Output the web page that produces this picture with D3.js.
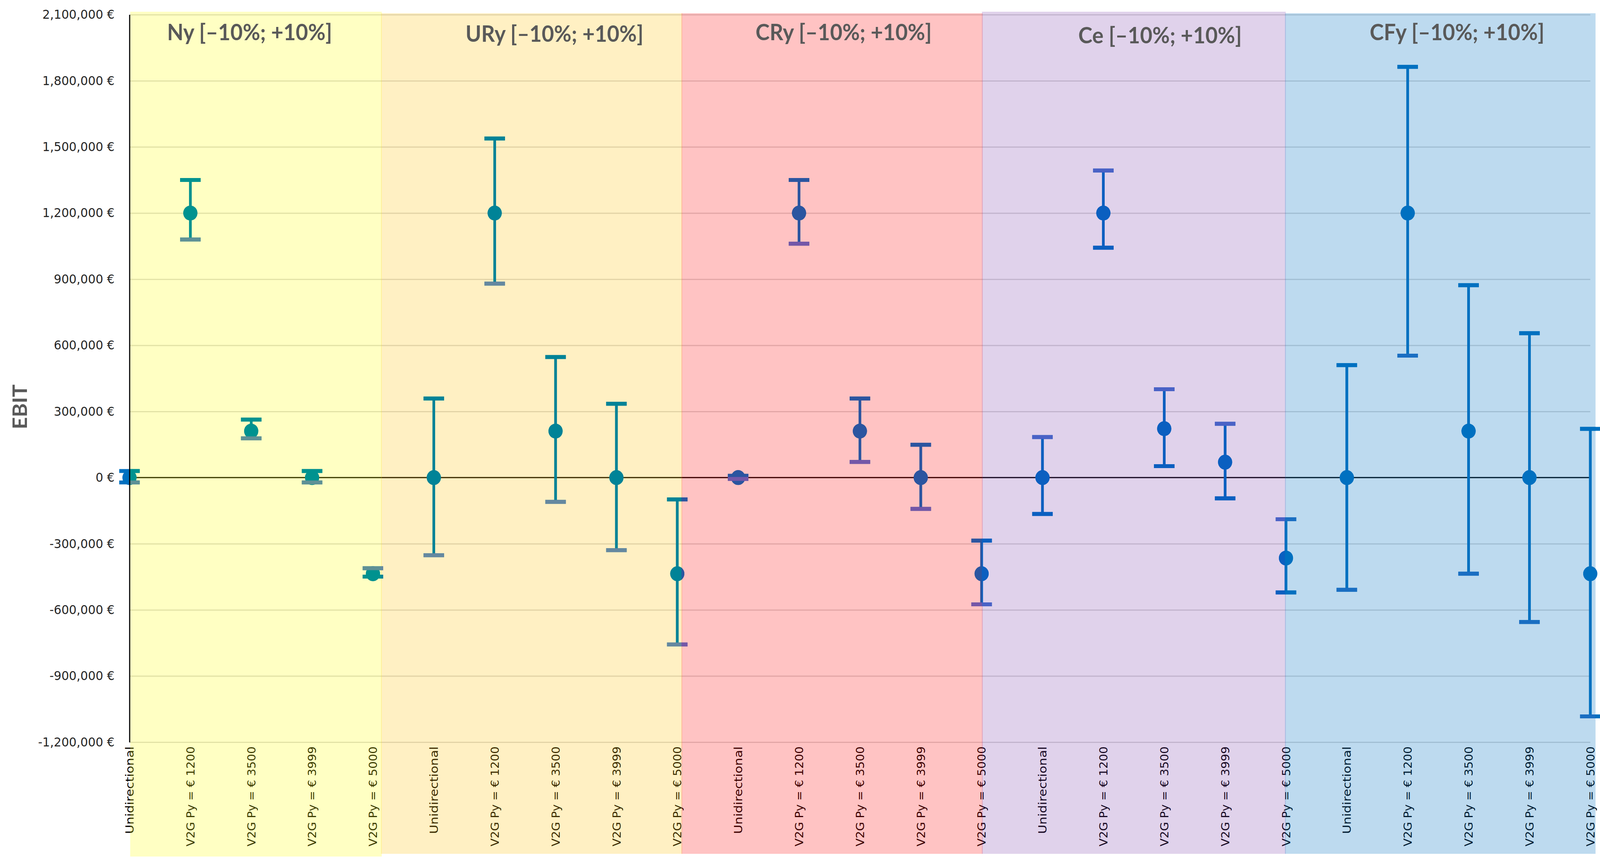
<!DOCTYPE html>
<html>
<head>
<meta charset="utf-8">
<script src="https://cdn.jsdelivr.net/npm/d3@7"></script>
<style>
  html, body { margin: 0; padding: 0; background: #fff; overflow: hidden; }
  svg { display: block; width: 100vw; height: 100vh; }
</style>
</head>
<body>
<svg id="chart" viewBox="0 0 4288 2208" preserveAspectRatio="none"></svg>
<script>
"use strict";

// groups (parameter varied) and scenarios along the x axis
var groups = ["Ny", "URy", "CRy", "Ce", "CFy"];
var scenarios = ["Unidirectional", "V2G Py = € 1200", "V2G Py = € 3500", "V2G Py = € 3999", "V2G Py = € 5000"];

// EBIT of the base case, one row per group
var ebit = [
    [0, 1200000, 211000, 0, -436000],
    [0, 1200000, 211000, 0, -436000],
    [0, 1200000, 211000, 0, -436000],
    [0, 1200000, 222000, 70000, -365000],
    [0, 1200000, 211000, 0, -436000]
];
// error bar ends, first colour
var endA = [
    [30000, 1350000, 263000, 30000, -449000],
    [359000, 1538000, 547000, 335000, -99000],
    [8000, 1350000, 359000, 149000, -286000],
    [-165000, 1043000, 52000, -94000, -521000],
    [510000, 1863000, 873000, 655000, 221000]
];
// error bar ends, second colour
var endB = [
    [-22000, 1080000, 178000, -22000, -411000],
    [-352000, 880000, -110000, -329000, -757000],
    [-6000, 1061000, 71000, -142000, -575000],
    [184000, 1393000, 401000, 244000, -189000],
    [-509000, 553000, -436000, -655000, -1083000]
];
var yTicks = d3.range(-1200000, 2100001, 300000);

// --- styles / layout
var colA = "#0070c0";
var bandFill = ["rgba(255,255,0,0.235)", "rgba(255,192,0,0.235)", "rgba(255,0,0,0.235)",
                "rgba(112,48,160,0.215)", "rgba(0,112,192,0.26)"];
// how the marks look through each band
var tintA = ["#00928f", "#008397", "#2b55a0", "#0b5fc0", "#0070c0"];
var tintB = ["#5f9196", "#6588a0", "#7457a8", "#4a62c6", "#1a6ec2"];
// band edges in category units (hand placed shapes in the original)
var bandEdges = [0.012, 4.145, 9.081, 14.017, 18.997, 24.086];
var bandTop = [30, 34, 34, 30, 34];
var bandBottom = [2194, 2187, 2187, 2187, 2187];
var titleX = [669, 1486, 2261, 3109, 3905];
var titleY = [103, 107, 103, 111, 103];

var plotLeft = 347, plotRight = 4262, plotTop = 37.5, plotBottom = 1901;

var svg = d3.select("#chart");
svg.append("rect").attr("width", 4288).attr("height", 2208).attr("fill", "#fff");

var points = [];
groups.forEach(function(g, gi) {
    scenarios.forEach(function(s, si) {
        points.push({i: gi * scenarios.length + si, group: g, label: s,
                     v: ebit[gi][si], a: endA[gi][si], b: endB[gi][si]});
    });
});

var x = d3.scalePoint().domain(d3.range(points.length)).range([plotLeft, plotRight]);
var xc = d3.scaleLinear().domain([0, points.length - 1]).range([plotLeft, plotRight]);
var y = d3.scaleLinear().domain([-1200000, 2100000]).range([plotBottom, plotTop]);

function bandX(i) { return xc(bandEdges[i]) - (i > 0 ? 2 : 0); }
function bandW(i) { return xc(bandEdges[i + 1]) - xc(bandEdges[i]) + (i > 0 ? 2 : 0); }

// gridlines
var grid = svg.append("g")
    .attr("transform", "translate(" + plotLeft + ",0)")
    .call(d3.axisLeft(y).tickValues(yTicks).tickSize(-(plotRight - plotLeft)).tickFormat(""));
grid.select(".domain").remove();
grid.selectAll("line").attr("stroke", "#d9d9d9").attr("stroke-width", 3);

// zero line
svg.append("line")
    .attr("x1", plotLeft).attr("x2", plotRight)
    .attr("y1", y(0)).attr("y2", y(0))
    .attr("stroke", "#000").attr("stroke-width", 3);

// category labels
var xAxis = svg.append("g")
    .attr("transform", "translate(0," + plotBottom + ")")
    .call(d3.axisBottom(x).tickSize(0).tickFormat(function(i) { return points[i].label; }));
xAxis.select(".domain").remove();
xAxis.selectAll("text")
    .attr("transform", "rotate(-90)")
    .attr("x", -11).attr("y", 0).attr("dy", "0.35em")
    .attr("text-anchor", "end")
    .attr("textLength", function(i) { return points[i].label.length > 14 ? 256 : 224; })
    .attr("lengthAdjust", "spacingAndGlyphs")
    .style("font-family", "'DejaVu Sans'")
    .style("font-size", "30px")
    .attr("fill", "#000");

// error bars and markers
function drawPoints(parent, cA, cB) {
    var pts = parent.selectAll("g").data(points).enter().append("g")
        .attr("transform", function(d) { return "translate(" + x(d.i) + ",0)"; });
    pts.append("line")
        .attr("y1", function(d) { return y(Math.max(d.a, d.b)); })
        .attr("y2", function(d) { return y(Math.min(d.a, d.b)); })
        .attr("stroke", cA).attr("stroke-width", 7);
    pts.append("circle")
        .attr("cy", function(d) { return y(d.v); })
        .attr("r", 19)
        .attr("fill", cA);
    pts.append("line")
        .attr("x1", -27.5).attr("x2", 27.5)
        .attr("y1", function(d) { return y(d.a); })
        .attr("y2", function(d) { return y(d.a); })
        .attr("stroke", cA).attr("stroke-width", 10);
    pts.append("line")
        .attr("x1", -27.5).attr("x2", 27.5)
        .attr("y1", function(d) { return y(d.b); })
        .attr("y2", function(d) { return y(d.b); })
        .attr("stroke", cB).attr("stroke-width", 10);
}
drawPoints(svg.append("g"), colA, colA);

// translucent group bands laid over the plot
svg.append("g").selectAll("rect").data(groups).enter().append("rect")
    .attr("x", function(d, i) { return bandX(i); })
    .attr("width", function(d, i) { return bandW(i); })
    .attr("y", function(d, i) { return bandTop[i]; })
    .attr("height", function(d, i) { return bandBottom[i] - bandTop[i]; })
    .attr("fill", function(d, i) { return bandFill[i]; });

// marks as seen through each band
var defs = svg.append("defs");
groups.forEach(function(g, i) {
    defs.append("clipPath").attr("id", "band" + i)
        .append("rect")
        .attr("x", bandX(i)).attr("width", bandW(i))
        .attr("y", bandTop[i]).attr("height", bandBottom[i] - bandTop[i]);
    drawPoints(svg.append("g").attr("clip-path", "url(#band" + i + ")"), tintA[i], tintB[i]);
});

// y axis
var fmt = function(v) { return d3.format(",")(v).replace("\u2212", "-") + " €"; };
var yAxis = svg.append("g")
    .attr("transform", "translate(" + plotLeft + ",0)")
    .call(d3.axisLeft(y).tickValues(yTicks).tickSize(0).tickSizeOuter(0).tickPadding(40).tickFormat(fmt));
yAxis.select(".domain").attr("stroke", "#000").attr("stroke-width", 3);
yAxis.selectAll("text")
    .style("font-family", "'DejaVu Sans'")
    .style("font-size", "32px")
    .attr("fill", "#262626");

// group titles
svg.append("g").selectAll("text").data(groups).enter().append("text")
    .attr("x", function(d, i) { return titleX[i]; })
    .attr("y", function(d, i) { return titleY[i]; })
    .attr("text-anchor", "middle")
    .style("font-family", "Lato")
    .style("font-weight", "bold")
    .style("font-size", "57px")
    .attr("fill", "#595959")
    .text(function(d) { return d + " [–10%; +10%]"; });

// axis title
svg.append("text")
    .attr("transform", "translate(72,1042) rotate(-90)")
    .attr("text-anchor", "middle")
    .style("font-family", "Lato")
    .style("font-weight", "bold")
    .style("font-size", "54px")
    .attr("fill", "#595959")
    .text("EBIT");
</script>
</body>
</html>
